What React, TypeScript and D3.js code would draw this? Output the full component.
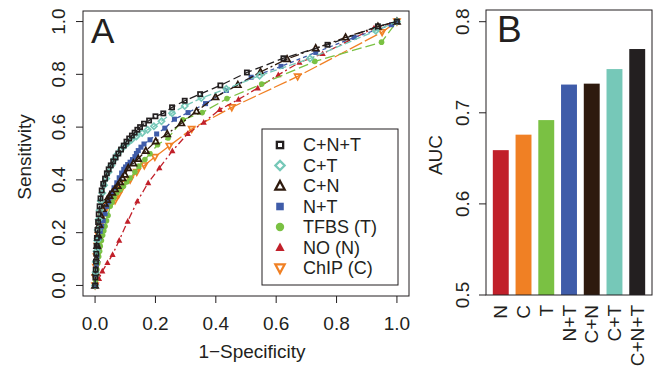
import React from 'react';
import * as d3 from 'd3';

// ROC points [1-specificity, sensitivity]
const rocCNT: [number, number][] = [
  [0, 0], [0.001, 0.03], [0.002, 0.06], [0.003, 0.09], [0.004, 0.12], [0.005, 0.15], [0.006, 0.18],
  [0.008, 0.21], [0.01, 0.24], [0.012, 0.27], [0.015, 0.3], [0.018, 0.33], [0.022, 0.36], [0.027, 0.385],
  [0.033, 0.405], [0.039, 0.425], [0.045, 0.44], [0.052, 0.455], [0.06, 0.47], [0.068, 0.485], [0.077, 0.5],
  [0.086, 0.515], [0.095, 0.53], [0.104, 0.545], [0.113, 0.557], [0.122, 0.568], [0.131, 0.579], [0.14, 0.59],
  [0.149, 0.6], [0.162, 0.613], [0.179, 0.625], [0.2, 0.641], [0.226, 0.652], [0.255, 0.675], [0.297, 0.7],
  [0.348, 0.725], [0.415, 0.758], [0.503, 0.807], [0.624, 0.861], [0.77, 0.912], [0.937, 0.982], [1, 1],
];
const rocCT: [number, number][] = [
  [0, 0], [0.002, 0.05], [0.003, 0.09], [0.005, 0.13], [0.007, 0.17], [0.009, 0.21], [0.012, 0.25],
  [0.015, 0.285], [0.019, 0.32], [0.024, 0.35], [0.03, 0.38], [0.037, 0.405], [0.045, 0.43], [0.054, 0.455],
  [0.064, 0.478], [0.075, 0.498], [0.086, 0.515], [0.097, 0.529], [0.109, 0.541], [0.121, 0.552],
  [0.137, 0.565], [0.156, 0.578], [0.174, 0.59], [0.195, 0.603], [0.22, 0.622], [0.255, 0.653], [0.297, 0.68],
  [0.352, 0.71], [0.435, 0.745], [0.545, 0.795], [0.712, 0.86], [0.93, 0.965], [1, 1],
];
const rocCN: [number, number][] = [
  [0, 0], [0.002, 0.05], [0.004, 0.1], [0.007, 0.15], [0.01, 0.19], [0.014, 0.23], [0.019, 0.265],
  [0.025, 0.29], [0.032, 0.31], [0.04, 0.325], [0.048, 0.34], [0.057, 0.352], [0.066, 0.365], [0.075, 0.378],
  [0.083, 0.392], [0.091, 0.407], [0.099, 0.42], [0.11, 0.445], [0.127, 0.463], [0.143, 0.48], [0.168, 0.51],
  [0.201, 0.546], [0.239, 0.574], [0.286, 0.615], [0.336, 0.66], [0.399, 0.714], [0.473, 0.76], [0.548, 0.809],
  [0.636, 0.858], [0.731, 0.899], [0.83, 0.94], [0.937, 0.981], [1, 1],
];
const rocNT: [number, number][] = [
  [0, 0], [0.002, 0.04], [0.004, 0.08], [0.006, 0.111], [0.009, 0.145], [0.013, 0.18], [0.017, 0.205],
  [0.022, 0.224], [0.027, 0.245], [0.033, 0.272], [0.039, 0.3], [0.045, 0.318], [0.05, 0.335], [0.055, 0.351],
  [0.063, 0.37], [0.072, 0.389], [0.08, 0.408], [0.088, 0.426], [0.095, 0.44], [0.101, 0.449], [0.108, 0.458],
  [0.116, 0.467], [0.124, 0.477], [0.132, 0.488], [0.137, 0.5], [0.143, 0.511], [0.152, 0.524], [0.162, 0.536],
  [0.182, 0.552], [0.204, 0.574], [0.231, 0.596], [0.263, 0.63], [0.308, 0.655], [0.366, 0.689],
  [0.435, 0.739], [0.517, 0.789], [0.616, 0.83], [0.731, 0.883], [0.858, 0.94], [0.982, 0.988], [1, 1],
];
const rocT: [number, number][] = [
  [0, 0], [0.002, 0.02], [0.004, 0.04], [0.006, 0.06], [0.009, 0.085], [0.012, 0.11], [0.015, 0.13],
  [0.017, 0.149], [0.021, 0.17], [0.025, 0.19], [0.029, 0.207], [0.033, 0.224], [0.038, 0.245], [0.043, 0.265],
  [0.05, 0.3], [0.056, 0.315], [0.063, 0.333], [0.072, 0.351], [0.083, 0.363], [0.094, 0.376], [0.105, 0.392],
  [0.116, 0.407], [0.132, 0.43], [0.145, 0.452], [0.165, 0.477], [0.182, 0.499], [0.207, 0.533],
  [0.242, 0.559], [0.291, 0.628], [0.355, 0.655], [0.437, 0.708], [0.552, 0.763], [0.728, 0.849],
  [0.949, 0.922], [1, 1],
];
const rocN: [number, number][] = [
  [0, 0], [0.004, 0.01], [0.013, 0.026], [0.024, 0.054], [0.041, 0.086], [0.058, 0.117], [0.08, 0.171],
  [0.108, 0.243], [0.14, 0.319], [0.176, 0.389], [0.213, 0.445], [0.256, 0.51], [0.307, 0.575], [0.36, 0.618],
  [0.413, 0.666], [0.475, 0.705], [0.539, 0.748], [0.607, 0.798], [0.677, 0.845], [0.754, 0.878],
  [0.924, 0.975], [1, 1],
];
const rocC: [number, number][] = [
  [0, 0], [0.001, 0.03], [0.003, 0.07], [0.005, 0.11], [0.008, 0.15], [0.012, 0.19], [0.017, 0.23],
  [0.023, 0.26], [0.031, 0.285], [0.041, 0.3], [0.053, 0.31], [0.066, 0.322], [0.078, 0.345], [0.088, 0.366],
  [0.097, 0.386], [0.116, 0.401], [0.138, 0.43], [0.163, 0.455], [0.198, 0.487], [0.246, 0.529],
  [0.32, 0.593], [0.453, 0.675], [0.671, 0.792], [0.951, 0.96], [1, 1],
];

const legendLabels = ['C+N+T', 'C+T', 'C+N', 'N+T', 'TFBS (T)', 'NO (N)', 'ChIP (C)'];
const axisTicks = [0, 0.2, 0.4, 0.6, 0.8, 1];

// panel B
const aucLabels = ['N', 'C', 'T', 'N+T', 'C+N', 'C+T', 'C+N+T'];
const aucValues = [0.659, 0.676, 0.692, 0.731, 0.732, 0.748, 0.77];
const aucTicks = [0.5, 0.6, 0.7, 0.8];

const FONT = 'Liberation Sans, Arial, Helvetica, sans-serif';

type Series = {
  name: string; data: [number, number][]; color: string; dash: string;
  shape: 'square' | 'diamond' | 'triangle' | 'down' | 'circle'; filled: boolean;
};

const series: Series[] = [
  { name: 'ChIP (C)', data: rocC, color: '#F08024', dash: '14,3', shape: 'down', filled: false },
  { name: 'NO (N)', data: rocN, color: '#C1202A', dash: '7,3,2,3', shape: 'triangle', filled: true },
  { name: 'TFBS (T)', data: rocT, color: '#7AC143', dash: '10,4', shape: 'circle', filled: true },
  { name: 'N+T', data: rocNT, color: '#3F5CA9', dash: '4,3', shape: 'square', filled: true },
  { name: 'C+N', data: rocCN, color: '#2E1A0E', dash: '9,3,2,3', shape: 'triangle', filled: false },
  { name: 'C+T', data: rocCT, color: '#76C8B8', dash: '7,3', shape: 'diamond', filled: false },
  { name: 'C+N+T', data: rocCNT, color: '#231F20', dash: '8,4', shape: 'square', filled: false },
];

const barColors = ['#C1202A', '#F08024', '#7AC143', '#3F5CA9', '#2E1A0E', '#76C8B8', '#231F20'];

function marker(shape: Series['shape'], cx: number, cy: number, r: number, color: string, filled: boolean, sw0: number, key?: any) {
  const fill = filled ? color : 'none';
  const sw = filled ? 0 : sw0;
  if (shape === 'square') {
    const s = filled ? r * 1.8 : r * 1.5;
    return <rect key={key} x={cx - s / 2} y={cy - s / 2} width={s} height={s} fill={fill} stroke={color} strokeWidth={sw} />;
  }
  if (shape === 'circle') return <circle key={key} cx={cx} cy={cy} r={r} fill={fill} stroke={color} strokeWidth={sw} />;
  if (shape === 'diamond') {
    const d = r * 1.1;
    return <path key={key} d={`M${cx},${cy - d}L${cx + d},${cy}L${cx},${cy + d}L${cx - d},${cy}Z`} fill={fill} stroke={color} strokeWidth={sw} />;
  }
  const h = r * 1.2;
  const w = r * 1.1;
  if (shape === 'triangle')
    return <path key={key} d={`M${cx},${cy - h}L${cx + w},${cy + h * 0.7}L${cx - w},${cy + h * 0.7}Z`} fill={fill} stroke={color} strokeWidth={sw} />;
  return <path key={key} d={`M${cx},${cy + h}L${cx + w},${cy - h * 0.7}L${cx - w},${cy - h * 0.7}Z`} fill={fill} stroke={color} strokeWidth={sw} />;
}

export default function App() {
  // panel A scales (R style 4% padding)
  const x = d3.scaleLinear().domain([-0.04, 1.04]).range([83, 409]);
  const y = d3.scaleLinear().domain([-0.04, 1.04]).range([296, 11]);
  const line = d3.line<[number, number]>().x(d => x(d[0])).y(d => y(d[1]));

  // panel B scales
  const yb = d3.scaleLinear().domain([0.5, 0.8]).range([295, 21.7]);
  const xb = d3.scaleBand<string>().domain(aucLabels).range([486, 652]).paddingInner(0.3).paddingOuter(0.3);

  return (
    <div style={{ position: 'absolute', left: 0, top: 0 }}>
      <svg width={655} height={370} style={{ display: 'block', background: '#fff' }} fontFamily={FONT}>
        {/* Panel A */}
        <rect x={83} y={11} width={326} height={285} fill="none" stroke="#231F20" strokeWidth={1} />
        {series.map(s => (
          <g key={s.name}>
            <path d={line(s.data) || ''} fill="none" stroke={s.color} strokeWidth={1.3} strokeDasharray={s.dash} />
            {s.data.map((p, i) => marker(s.shape, x(p[0]), y(p[1]), 2.8, s.color, s.filled, 1.7, i))}
          </g>
        ))}
        {axisTicks.map(t => (
          <g key={'xa' + t}>
            <line x1={x(t)} x2={x(t)} y1={296} y2={303} stroke="#231F20" />
            <text x={x(t)} y={330} fontSize={19} textAnchor="middle" fill="#231F20">{t.toFixed(1)}</text>
          </g>
        ))}
        {axisTicks.map(t => (
          <g key={'ya' + t}>
            <line x1={76} x2={83} y1={y(t)} y2={y(t)} stroke="#231F20" />
            <text transform={`translate(58,${y(t)}) rotate(-90)`} dy="0.35em" fontSize={19} textAnchor="middle" fill="#231F20">{t.toFixed(1)}</text>
          </g>
        ))}
        <text x={252} y={358} fontSize={19} textAnchor="middle" fill="#231F20">1−Specificity</text>
        <text transform="translate(24,157) rotate(-90)" dy="0.35em" fontSize={19} textAnchor="middle" fill="#231F20">Sensitivity</text>
        <text x={91} y={43} fontSize={35} fill="#231F20">A</text>

        {/* legend */}
        <rect x={262} y={129} width={136} height={156} fill="#fff" stroke="#231F20" strokeWidth={1} />
        {legendLabels.map((lab, i) => {
          const s = series.find(d => d.name === lab)!;
          const cy = 145 + i * 20.5;
          return (
            <g key={lab}>
              {marker(s.shape, 280, cy, 4.2, s.color, s.filled, 2.3)}
              <text x={303} y={cy} dy="0.35em" fontSize={18} fill="#231F20">{lab}</text>
            </g>
          );
        })}

        {/* Panel B */}
        {aucLabels.map((lab, i) => (
          <rect key={lab} x={xb(lab)} y={yb(aucValues[i])} width={xb.bandwidth()} height={yb(0.5) - yb(aucValues[i])} fill={barColors[i]} />
        ))}
        <rect x={486} y={10} width={166} height={285} fill="none" stroke="#231F20" strokeWidth={1} />
        {aucTicks.map(t => (
          <g key={'yb' + t}>
            <line x1={479} x2={486} y1={yb(t)} y2={yb(t)} stroke="#231F20" />
            <text transform={`translate(462,${yb(t)}) rotate(-90)`} dy="0.35em" fontSize={19} textAnchor="middle" fill="#231F20">{t.toFixed(1)}</text>
          </g>
        ))}
        {aucLabels.map(lab => (
          <text key={'xl' + lab} transform={`translate(${(xb(lab) || 0) + xb.bandwidth() / 2},305) rotate(-90)`} dy="0.35em" fontSize={19} textAnchor="end" fill="#231F20">{lab}</text>
        ))}
        <text transform="translate(435,155) rotate(-90)" dy="0.35em" fontSize={19} textAnchor="middle" fill="#231F20">AUC</text>
        <text x={497} y={42} fontSize={37} fill="#231F20">B</text>
      </svg>
    </div>
  );
}
